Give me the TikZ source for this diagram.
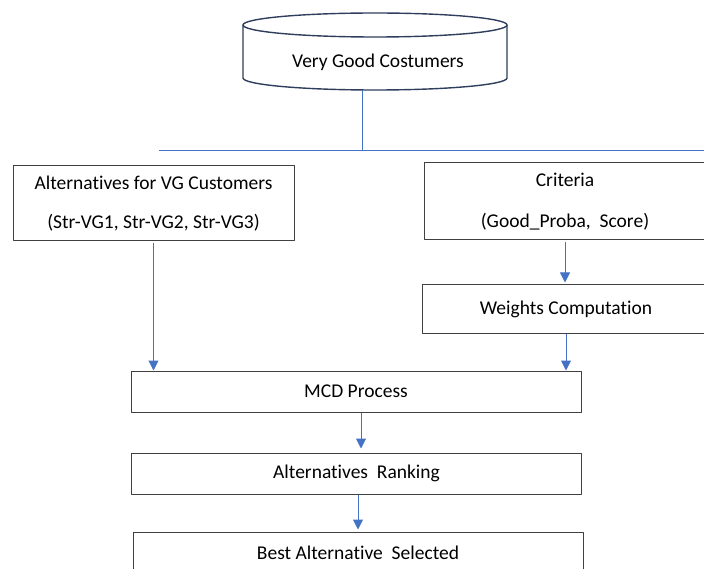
\documentclass[tikz,border=0pt]{standalone}
\usepackage{fontspec}
\setmainfont{Carlito}[Ligatures=NoCommon]
\usetikzlibrary{arrows.meta}
\definecolor{flowblue}{HTML}{4472C4}
\definecolor{drumedge}{HTML}{2F3E5C}
\definecolor{boxedge}{HTML}{404040}
\begin{document}
\begin{tikzpicture}[x=1pt,y=-1pt,line join=round,
  stepbox/.style={draw=boxedge,line width=1pt,fill=white,inner sep=0pt,align=center,font=\fontsize{19.5}{23}\selectfont},
  flow/.style={draw=flowblue,line width=1pt,-{Triangle[width=10pt,length=10pt]}},
  tie/.style={draw=flowblue,line width=.9pt}]
\useasboundingbox (0,0) rectangle (704,569);
\filldraw[fill=white,draw=drumedge,line width=1.4pt](243,25)--(243,78) arc[start angle=180,end angle=0,x radius=132,y radius=12]--(507,25);
\draw[draw=drumedge,line width=1.4pt](375,25) ellipse[x radius=132,y radius=12];
\node[font=\fontsize{19.5}{23}\selectfont] (vgc) at (378,62) {Very Good Costumers};
\coordinate (vgcfoot) at (362.5,90);
\coordinate (fork) at (362.5,150.5);
\coordinate (forkl) at (159,150.5);
\coordinate (forkr) at (704,150.5);
\draw[tie] (vgcfoot)--(fork);
\draw[tie] (forkl)--(forkr);
\node[stepbox,minimum width=281pt,minimum height=75pt] (alt) at (153.5,203.5) {Alternatives for VG Customers\\[16pt](Str-VG1, Str-VG2, Str-VG3)};
\node[stepbox,minimum width=282pt,minimum height=77pt] (crit) at (565,201.5) {Criteria\\[18pt](Good\_Proba,\ \ Score)};
\node[stepbox,minimum width=288pt,minimum height=48pt] (wts) at (566,309) {Weights Computation};
\node[stepbox,minimum width=450pt,minimum height=41pt] (mcd) at (356,391.5) {MCD Process};
\node[stepbox,minimum width=450pt,minimum height=41pt] (rank) at (356.5,473.5) {Alternatives\ \ Ranking};
\node[stepbox,minimum width=450pt,minimum height=41pt] (best) at (358,552.5) {Best Alternative\ \ Selected};
\draw[flow] ([yshift=-2pt]alt.south)--(alt.south |- mcd.north);
\draw[flow,shorten >=2pt] ([yshift=-2pt]crit.south)--(crit.south |- wts.north);
\draw[flow] (wts.south)--(wts.south |- mcd.north);
\draw[flow,shorten >=4pt] ([xshift=5pt]mcd.south)--([xshift=5pt]mcd.south |- rank.north);
\draw[flow,shorten >=2pt] ([xshift=1.5pt]rank.south)--([xshift=1.5pt]rank.south |- best.north);
\end{tikzpicture}
\end{document}
